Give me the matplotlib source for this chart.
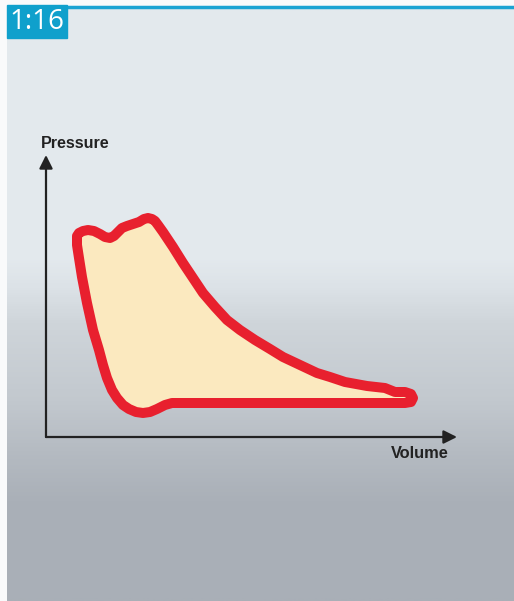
import numpy as np
import matplotlib.pyplot as plt
from matplotlib.colors import LinearSegmentedColormap

# ------------------------------------------------------------
# Data: P-V loop (units = px from the axis origin)
# ------------------------------------------------------------
volume = [31, 31, 33, 37, 42, 48, 54, 59, 64, 68, 72, 76, 81, 87, 93, 98,
          102, 106, 109, 112, 117, 127, 137, 147, 157, 169, 181, 194, 209,
          224, 237, 254, 271, 284, 299, 321, 339, 344, 349, 359, 365, 367,
          365, 359, 334, 254, 184, 144, 126, 119, 111, 104, 97, 90, 83, 77,
          71, 66, 61, 57, 53, 47, 41, 36, 33, 31, 31]
pressure = [197, 201, 204, 206, 207, 206, 203, 200, 199, 201, 205, 209,
            211, 213, 215, 218, 219, 218, 216, 212, 205, 190, 174, 159,
            144, 130, 117, 107, 97, 88, 80, 72, 64, 60, 55, 51, 49, 47, 45,
            45, 43, 39, 35, 34, 34, 34, 34, 34, 34, 32, 28, 25, 24, 25, 28,
            32, 39, 47, 59, 72, 87, 107, 134, 160, 179, 192, 197]

x_label = "Volume"
y_label = "Pressure"
panel_tag = "1:16"

W, H = 514, 601

# background gradient stops: (pixel row, colour)
bg_rows = [0, 250, 280, 320, 400, 450, 500, 601]
bg_cols = ["#e3e9ed", "#e4eaee", "#dde3e8", "#cfd5da", "#c2c8ce",
           "#b5bbc2", "#aab0b8", "#a9afb7"]

fig = plt.figure(figsize=(W / 100, H / 100), dpi=100)
fig.patch.set_facecolor("#f9fafb")

# ------------------------------------------------------------
# Background panel
# ------------------------------------------------------------
bg = fig.add_axes([0, 0, 1, 1])
bg.set_xlim(0, W)
bg.set_ylim(H, 0)
bg.axis("off")

cmap = LinearSegmentedColormap.from_list(
    "bg", list(zip(np.array(bg_rows) / H, bg_cols)))
grad = np.linspace(0, 1, 300).reshape(-1, 1)
bg.imshow(grad, cmap=cmap, extent=(7, W, H, 8), aspect="auto", zorder=0)
bg.plot([7, W], [6.5, 6.5], color="#1ba3d3", lw=2.5, solid_capstyle="butt")
bg.add_patch(plt.Rectangle((7, 5), 60, 33, color="#0fa0cc", zorder=2))
bg.text(37, 22, panel_tag, color="white", fontsize=20, family="Open Sans",
        ha="center", va="center", zorder=3)

# ------------------------------------------------------------
# Chart axes (origin at the arrow corner)
# ------------------------------------------------------------
x0, y0 = 46, 437
xlen, ylen = 411, 282
ax = fig.add_axes([x0 / W, (H - y0) / H, xlen / W, ylen / H])
ax.set_xlim(0, xlen)
ax.set_ylim(0, ylen)
ax.patch.set_alpha(0)
ax.axis("off")

ax.fill(volume, pressure, color="#fbe9bf", zorder=1)
ax.plot(volume, pressure, color="#e8202e", lw=7.2, solid_joinstyle="round",
        solid_capstyle="round", zorder=2)

arrow = dict(arrowstyle="-|>", color="#222222", lw=1.6,
             mutation_scale=20, shrinkA=0, shrinkB=0)
ax.annotate("", xy=(xlen, 0), xytext=(0, 0), arrowprops=arrow,
            annotation_clip=False)
ax.annotate("", xy=(0, ylen), xytext=(0, 0), arrowprops=arrow,
            annotation_clip=False)

bg.text(41, 143, y_label, fontsize=11.6, fontweight="bold",
        family="Liberation Sans", color="#222222", ha="left", va="center")
bg.text(391, 453, x_label, fontsize=11.8, fontweight="bold",
        family="Liberation Sans", color="#222222", ha="left", va="center")

fig.savefig("out.png", dpi=100)
